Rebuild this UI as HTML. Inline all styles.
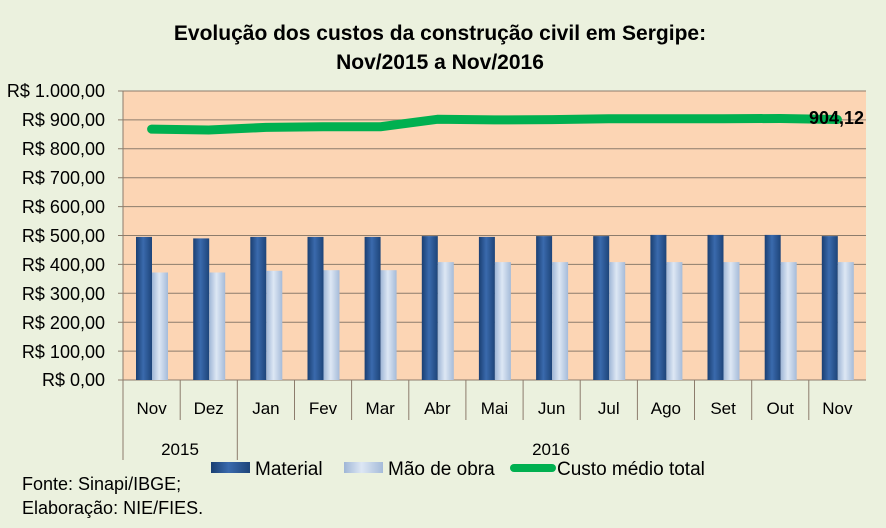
<!DOCTYPE html>
<html><head><meta charset="utf-8"><style>
html,body{margin:0;padding:0;background:#ebf1de;}
svg{display:block;font-family:"Liberation Sans",sans-serif;}
</style></head><body>
<svg width="886" height="528" viewBox="0 0 886 528" xmlns="http://www.w3.org/2000/svg">
<defs>
<linearGradient id="gm" x1="0" x2="1" y1="0" y2="0">
<stop offset="0" stop-color="#1a3f72"/><stop offset="0.45" stop-color="#3a6aad"/><stop offset="1" stop-color="#1d4479"/>
</linearGradient>
<linearGradient id="go" x1="0" x2="1" y1="0" y2="0">
<stop offset="0" stop-color="#9fb6d6"/><stop offset="0.45" stop-color="#dde7f4"/><stop offset="1" stop-color="#a5bbd9"/>
</linearGradient>
</defs>
<rect width="886" height="528" fill="#ebf1de"/>
<text x="440" y="40" text-anchor="middle" font-size="21" font-weight="bold" fill="#000">Evolução dos custos da construção civil em Sergipe:</text>
<text x="440" y="69" text-anchor="middle" font-size="21" font-weight="bold" fill="#000">Nov/2015 a Nov/2016</text>
<rect x="123" y="91" width="743" height="289" fill="#fcd5b4"/>
<g stroke="#8c7c6c" stroke-width="1">
<line x1="118" x2="866" y1="91" y2="91"/><line x1="118" x2="866" y1="119.9" y2="119.9"/>
<line x1="118" x2="866" y1="148.8" y2="148.8"/><line x1="118" x2="866" y1="177.7" y2="177.7"/>
<line x1="118" x2="866" y1="206.6" y2="206.6"/><line x1="118" x2="866" y1="235.5" y2="235.5"/>
<line x1="118" x2="866" y1="264.4" y2="264.4"/><line x1="118" x2="866" y1="293.3" y2="293.3"/>
<line x1="118" x2="866" y1="322.2" y2="322.2"/><line x1="118" x2="866" y1="351.1" y2="351.1"/>
<line x1="118" x2="866" y1="380" y2="380"/>
<line x1="123" x2="123" y1="91" y2="460"/><line x1="237.3" x2="237.3" y1="380" y2="460"/>
<line x1="180.2" x2="180.2" y1="380" y2="420"/><line x1="294.5" x2="294.5" y1="380" y2="420"/>
<line x1="351.6" x2="351.6" y1="380" y2="420"/><line x1="408.8" x2="408.8" y1="380" y2="420"/>
<line x1="465.9" x2="465.9" y1="380" y2="420"/><line x1="523.1" x2="523.1" y1="380" y2="420"/>
<line x1="580.2" x2="580.2" y1="380" y2="420"/><line x1="637.4" x2="637.4" y1="380" y2="420"/>
<line x1="694.5" x2="694.5" y1="380" y2="420"/><line x1="751.7" x2="751.7" y1="380" y2="420"/>
<line x1="808.8" x2="808.8" y1="380" y2="420"/>
</g>
<g font-size="18" fill="#000" text-anchor="end">
<text x="105" y="97">R$ 1.000,00</text><text x="105" y="126">R$ 900,00</text>
<text x="105" y="155">R$ 800,00</text><text x="105" y="184">R$ 700,00</text>
<text x="105" y="213">R$ 600,00</text><text x="105" y="242">R$ 500,00</text>
<text x="105" y="271">R$ 400,00</text><text x="105" y="300">R$ 300,00</text>
<text x="105" y="329">R$ 200,00</text><text x="105" y="358">R$ 100,00</text>
<text x="105" y="386">R$ 0,00</text>
</g>
<g fill="url(#gm)">
<rect x="136" y="236.9" width="16" height="143.1"/><rect x="193.2" y="238.4" width="16" height="141.6"/>
<rect x="250.3" y="236.9" width="16" height="143.1"/><rect x="307.5" y="236.9" width="16" height="143.1"/>
<rect x="364.6" y="236.9" width="16" height="143.1"/><rect x="421.8" y="236.1" width="16" height="143.9"/>
<rect x="478.9" y="236.9" width="16" height="143.1"/><rect x="536.1" y="236.1" width="16" height="143.9"/>
<rect x="593.2" y="236.1" width="16" height="143.9"/><rect x="650.4" y="234.9" width="16" height="145.1"/>
<rect x="707.5" y="234.9" width="16" height="145.1"/><rect x="764.7" y="234.9" width="16" height="145.1"/>
<rect x="821.8" y="236.1" width="16" height="143.9"/>
</g>
<g fill="url(#go)">
<rect x="152" y="272.5" width="16" height="107.5"/><rect x="209.2" y="272.5" width="16" height="107.5"/>
<rect x="266.3" y="270.8" width="16" height="109.2"/><rect x="323.5" y="270.2" width="16" height="109.8"/>
<rect x="380.6" y="270.2" width="16" height="109.8"/><rect x="437.8" y="262.1" width="16" height="117.9"/>
<rect x="494.9" y="262.1" width="16" height="117.9"/><rect x="552.1" y="262.1" width="16" height="117.9"/>
<rect x="609.2" y="262.1" width="16" height="117.9"/><rect x="666.4" y="262.1" width="16" height="117.9"/>
<rect x="723.5" y="262.1" width="16" height="117.9"/><rect x="780.7" y="262.1" width="16" height="117.9"/>
<rect x="837.8" y="262.1" width="16" height="117.9"/>
</g>
<polyline fill="none" stroke="#00b050" stroke-width="9" stroke-linecap="round" stroke-linejoin="round"
points="151.6,129.1 208.7,130 265.9,127.4 323,126.8 380.2,126.8 437.3,119.3 494.5,119.9 551.6,119.6 608.8,118.7 665.9,118.7 723.1,118.7 780.2,118.5 837.4,119.5"/>
<text x="864" y="124" text-anchor="end" font-size="18" font-weight="bold" fill="#000">904,12</text>
<g font-size="17" fill="#000" text-anchor="middle">
<text x="151.6" y="414">Nov</text><text x="208.7" y="414">Dez</text><text x="265.9" y="414">Jan</text>
<text x="323" y="414">Fev</text><text x="380.2" y="414">Mar</text><text x="437.3" y="414">Abr</text>
<text x="494.5" y="414">Mai</text><text x="551.6" y="414">Jun</text><text x="608.8" y="414">Jul</text>
<text x="665.9" y="414">Ago</text><text x="723.1" y="414">Set</text><text x="780.2" y="414">Out</text>
<text x="837.4" y="414">Nov</text>
<text x="180" y="455">2015</text><text x="551" y="455">2016</text>
</g>
<rect x="211" y="462" width="39" height="11" fill="url(#gm)"/>
<text x="255" y="475" font-size="19" fill="#000">Material</text>
<rect x="344" y="462" width="39" height="11" fill="url(#go)"/>
<text x="388" y="475" font-size="19" fill="#000">Mão de obra</text>
<line x1="514" x2="552" y1="468" y2="468" stroke="#00b050" stroke-width="8" stroke-linecap="round"/>
<text x="557" y="475" font-size="19" fill="#000">Custo médio total</text>
<text x="22" y="490" font-size="18" fill="#000">Fonte: Sinapi/IBGE;</text>
<text x="22" y="514" font-size="18" fill="#000">Elaboração: NIE/FIES.</text>
</svg>
</body></html>
